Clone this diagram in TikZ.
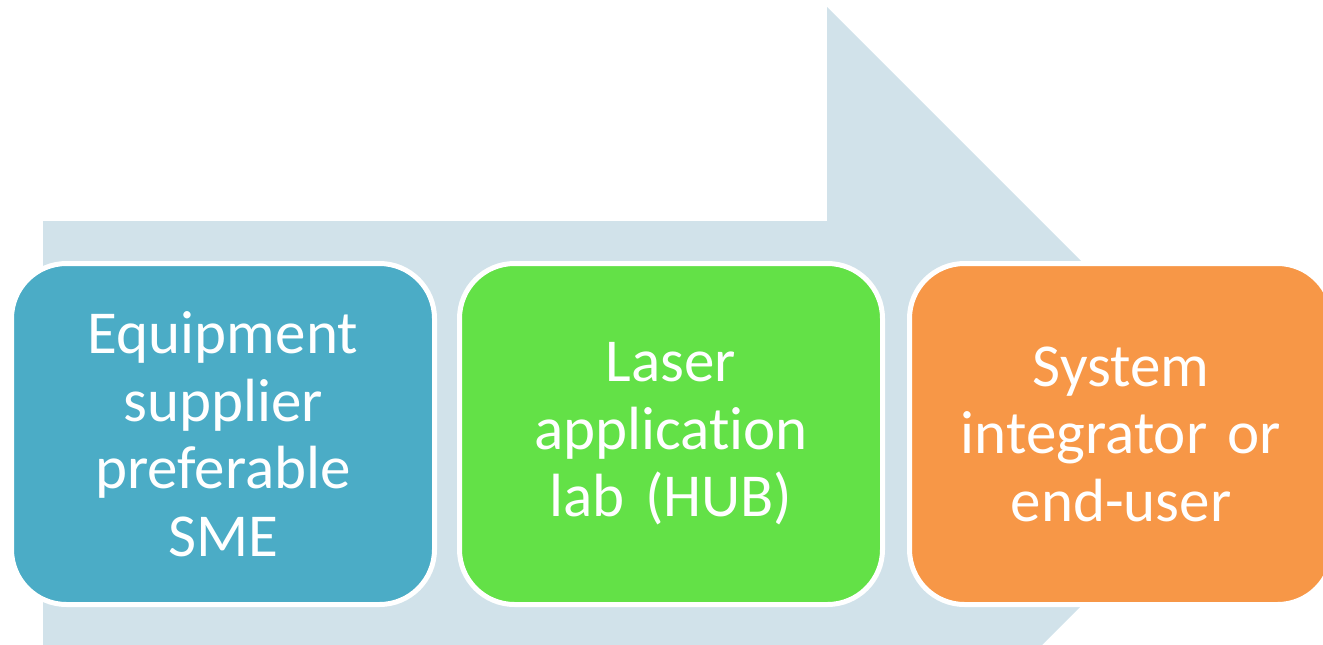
\documentclass[tikz,border=0pt]{standalone}
\usepackage{fontspec}
\setmainfont{Carlito}[Ligatures=NoCommon]
\definecolor{arrowfill}{HTML}{D1E2EA}
\definecolor{stepblue}{HTML}{4BACC6}
\definecolor{stepgreen}{HTML}{63E147}
\definecolor{steporange}{HTML}{F79747}
\tikzset{
  stagebox/.style={draw=white, line width=5pt, rounded corners=55pt,
    minimum width=423pt, minimum height=341pt, inner sep=0pt,
    text=white, align=center, text width=420pt,
    font=\fontsize{61pt}{67.5pt}\selectfont},
}
\begin{document}
\begin{tikzpicture}[x=1pt, y=-1pt]
  \useasboundingbox (0,0) rectangle (1323,645);
  \clip (0,0) rectangle (1323,645);
  % block arrow behind the stages
  \fill[arrowfill] (43,221) -- (827,221) -- (827,7) -- (1253.5,433.5)
    -- (827,860) -- (827,646) -- (43,646) -- cycle;
  % process stages
  \node[stagebox, fill=stepblue] (supplier) at (223,434)
    {Equipment\\supplier\\preferable\\SME};
  \node[stagebox, fill=stepgreen] (lab) at (671,434)
    {Laser\\application\\lab (HUB)};
  \node[stagebox, fill=steporange] (integrator) at (1121,434)
    {System\\integrator or\\end-user};
\end{tikzpicture}
\end{document}
